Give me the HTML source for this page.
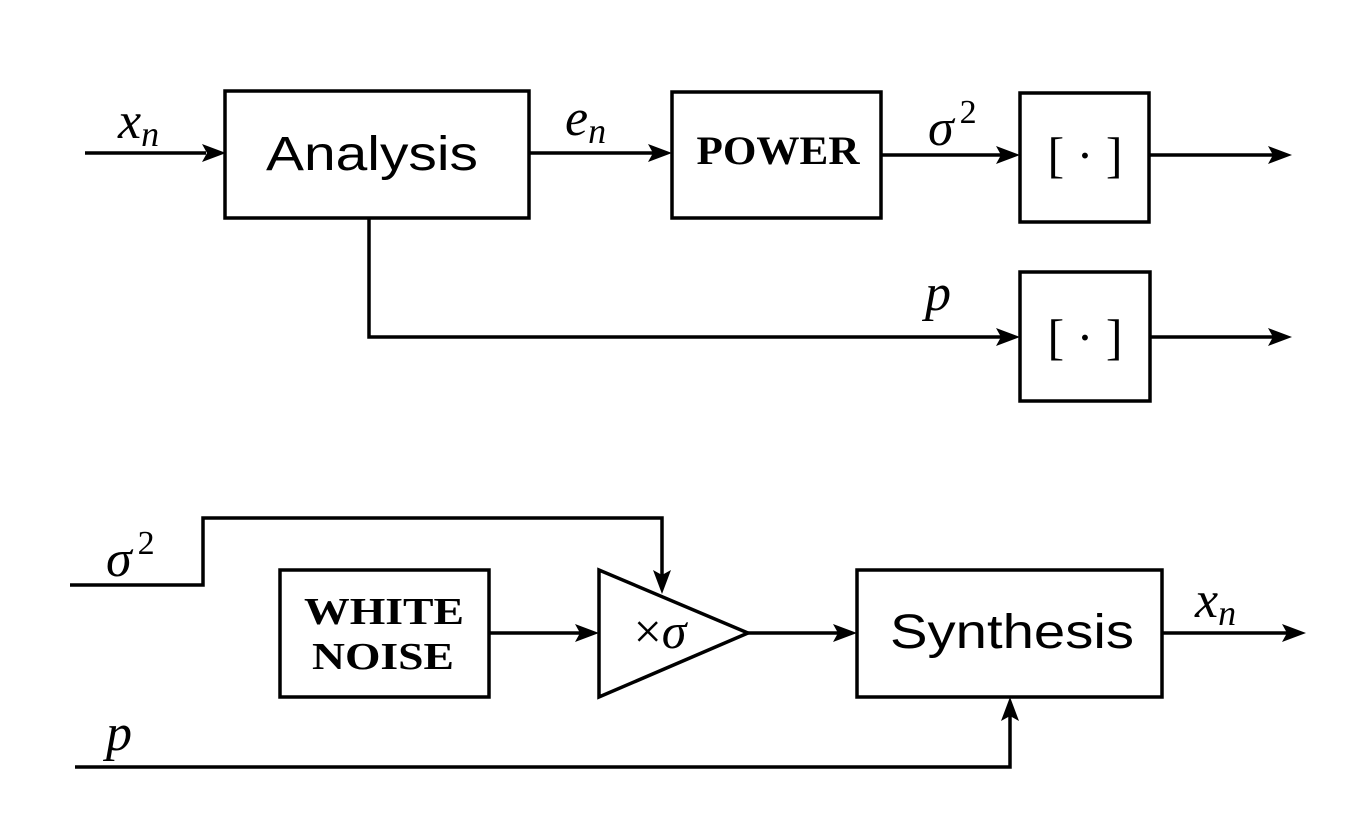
<!DOCTYPE html>
<html><head><meta charset="utf-8"><style>
html,body{margin:0;padding:0;background:#fff;}
svg{display:block;}
.m{font-family:"Liberation Serif",serif;font-style:italic;}
.s{font-family:"Liberation Sans",sans-serif;}
.r{font-family:"Liberation Serif",serif;}
</style></head><body>
<svg width="1348" height="840" viewBox="0 0 1348 840" xmlns="http://www.w3.org/2000/svg">
<g fill="none" stroke="#000" stroke-width="3.5">
<rect x="225" y="91" width="304" height="127"/>
<rect x="672" y="92" width="209" height="126"/>
<rect x="1020" y="93" width="129" height="129"/>
<rect x="1020" y="272" width="130" height="129"/>
<rect x="280" y="570" width="209" height="127"/>
<polygon points="599,570 599,697 748,633"/>
<rect x="857" y="570" width="305" height="127"/>
<line x1="85" y1="153" x2="206" y2="153"/>
<line x1="529" y1="153" x2="654" y2="153"/>
<line x1="881" y1="155" x2="1002" y2="155"/>
<line x1="1149" y1="155" x2="1274" y2="155"/>
<polyline points="369,218 369,337 1002,337"/>
<line x1="1150" y1="337" x2="1274" y2="337"/>
<polyline points="70,585 203,585 203,518 662,518 662,575"/>
<line x1="489" y1="633" x2="580" y2="633"/>
<line x1="748" y1="633" x2="839" y2="633"/>
<line x1="1162" y1="633" x2="1287" y2="633"/>
<polyline points="75,767 1010,767 1010,715"/>
</g>
<g fill="#000">
<path d="M226,153 L202,144 L207,153 L202,162 Z"/>
<path d="M672,153 L648,144 L653,153 L648,162 Z"/>
<path d="M1020,155 L996,146 L1001,155 L996,164 Z"/>
<path d="M1292,155 L1268,146 L1273,155 L1268,164 Z"/>
<path d="M1020,337 L996,328 L1001,337 L996,346 Z"/>
<path d="M1292,337 L1268,328 L1273,337 L1268,346 Z"/>
<path d="M662,594 L653,570 L662,575 L671,570 Z"/>
<path d="M599,633 L575,624 L580,633 L575,642 Z"/>
<path d="M857,633 L833,624 L838,633 L833,642 Z"/>
<path d="M1306,633 L1282,624 L1287,633 L1282,642 Z"/>
<path d="M1010,697 L1001,721 L1010,716 L1019,721 Z"/>
</g>
<g fill="#000">
<text x="118" y="138" class="m" font-size="52">x<tspan font-size="36" dy="8">n</tspan></text>
<text x="372" y="170" class="s" font-size="48" text-anchor="middle" textLength="212" lengthAdjust="spacingAndGlyphs">Analysis</text>
<text x="565" y="135" class="m" font-size="52">e<tspan font-size="36" dy="8">n</tspan></text>
<text x="778" y="164" class="r" font-size="40" font-weight="bold" text-anchor="middle" textLength="163" lengthAdjust="spacingAndGlyphs">POWER</text>
<text x="928" y="145" class="m" font-size="52">σ<tspan font-size="34" dx="6" dy="-22" font-style="normal">2</tspan></text>
<text x="1085" y="172" class="r" font-size="50" text-anchor="middle">[ · ]</text>
<text x="1085" y="354" class="r" font-size="50" text-anchor="middle">[ · ]</text>
<text x="925" y="310" class="m" font-size="52">p</text>
<text x="106" y="576" class="m" font-size="52">σ<tspan font-size="34" dx="6" dy="-22" font-style="normal">2</tspan></text>
<text x="384" y="624" class="r" font-size="38" font-weight="bold" text-anchor="middle" textLength="160" lengthAdjust="spacingAndGlyphs">WHITE</text>
<text x="383" y="669" class="r" font-size="38" font-weight="bold" text-anchor="middle" textLength="142" lengthAdjust="spacingAndGlyphs">NOISE</text>
<text x="660" y="648" class="r" font-size="50" text-anchor="middle">×<tspan class="m">σ</tspan></text>
<text x="1012" y="648" class="s" font-size="48" text-anchor="middle" textLength="244" lengthAdjust="spacingAndGlyphs">Synthesis</text>
<text x="1195" y="617" class="m" font-size="52">x<tspan font-size="36" dy="8">n</tspan></text>
<text x="106" y="750" class="m" font-size="52">p</text>
</g>
</svg>
</body></html>
